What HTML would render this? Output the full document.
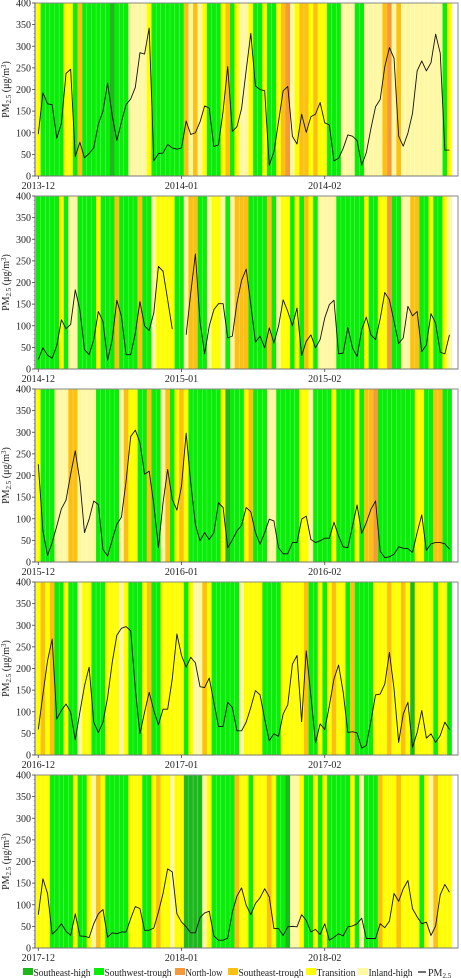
<!DOCTYPE html>
<html><head><meta charset="utf-8">
<style>
html,body{margin:0;padding:0;background:#fff;}
svg{display:block;font-family:"Liberation Serif",serif;}
</style></head>
<body>
<svg id="chart" width="461" height="978" viewBox="0 0 461 978" xmlns="http://www.w3.org/2000/svg"></svg>
<script>
// ---- data ----
const panelStartLabels = ["2013-12","2014-12","2015-12","2016-12","2017-12"];
const panelMidLabels = ["2014-01","2015-01","2016-01","2017-01","2018-01"];
const panelEndLabels = ["2014-02","2015-02","2016-02","2017-02","2018-02"];
const yTicks = [0,50,100,150,200,250,300,350,400];

const types1 = "TGGGGGTTGSGGGGGGDGGGIIIITGGGGGGGSISITGGGTSGTIITGGTGGTSNITSSTSTTGGGIIIGGIIIISNISIIIIIIIIIGT".split("");
const types2 = "GGGGGTGIIGGGGTGGGSGGGGSGGITTTTGGISSGGITTIGISSSGGGGSGITTGTGSTGIIIIGGGGGGTGGTTNGGIISSGGTGGTI".split("");
const types3 = "TGGGIIISSIIIIGGGGGISTTGGSGGISGTSTGGGGGGGTDGGGTSGGGIIGGGGGTTIGGGGTGGGGTGSSNGGGGGGGGTTGGSSGG".split("");
const types4 = "TSTSGGTGGITTGGGTTTITGGGTSGGTTTTTGTIISTGGGGGGITTTTGGGGTTTTTSGGTGTSTTGSGGGGTTTSTTSTDTTTTGTTG".split("");
const types5 = "TTTGGGGGTGGTISTGGGGGTTTGGTSTTITTDDDDITGGGGGSTTGTTTSTGGDIITGGTGTGGGGGTGIGGGSTTTSTTTTGTISTTT".split("");

const pm1 = [97,192,167,165,87,122,237,247,45,78,42,52,65,120,150,215,140,82,125,165,178,205,285,282,342,35,52,53,73,65,62,65,127,96,100,125,162,157,68,72,150,253,103,114,156,245,330,208,200,197,25,56,126,197,207,92,74,143,101,137,143,170,123,118,35,41,64,95,92,82,25,54,110,160,177,253,297,272,92,69,99,145,243,266,243,262,328,284,60,60];
const pm2 = [22,49,32,25,54,114,93,103,183,137,45,33,68,133,110,20,68,159,122,33,33,83,156,100,89,130,237,226,160,92,null,null,79,176,266,110,35,99,137,151,151,72,76,153,205,231,149,62,76,49,95,60,99,160,133,100,141,31,64,79,49,68,118,149,159,35,37,96,49,29,91,120,79,68,116,177,160,110,59,72,145,123,133,40,56,128,106,39,35,79];
const pm3 = [226,72,15,45,83,123,143,203,257,187,68,99,141,133,29,14,51,87,104,187,290,305,276,203,210,133,33,137,214,145,120,176,298,183,87,49,68,52,68,137,126,33,51,72,85,126,116,68,41,68,99,95,33,19,19,45,45,99,106,52,45,49,55,55,92,60,35,33,83,132,66,91,122,141,25,10,12,18,35,32,31,22,68,109,27,42,45,45,42,30];
const pm4 = [59,140,218,268,83,103,118,99,35,99,160,203,76,52,76,133,214,277,293,297,287,153,49,99,145,103,70,106,106,176,280,230,203,226,213,158,156,178,122,66,66,122,110,56,56,76,110,149,139,83,33,49,43,95,116,210,230,77,241,137,28,72,59,114,176,208,145,52,54,51,16,22,79,139,141,164,237,153,29,95,122,18,52,103,39,49,29,45,76,59];
const pm5 = [77,160,126,32,42,56,39,29,79,28,27,24,56,79,89,25,35,33,37,37,68,96,91,41,41,46,83,126,183,176,79,60,49,35,35,70,81,85,28,18,18,23,83,120,139,99,77,103,116,137,118,45,45,29,49,50,49,77,64,37,43,31,56,18,25,33,28,49,51,56,69,22,22,22,56,47,62,126,108,137,156,91,72,56,60,29,51,123,147,129];

const allTypes = [types1,types2,types3,types4,types5];
const allPM = [pm1,pm2,pm3,pm4,pm5];

const typeColors = {D:"#1cb81c",G:"#08ee08",N:"#f59a3a",S:"#fcc012",T:"#ffff00",I:"#fff8a2"};
const legendNames = ["Southeast-high","Southwest-trough","North-low","Southeast-trough","Transition","Inland-high"];
const legendCodes = ["D","G","N","S","T","I"];
const legendX = [23,94,175,228,306,358];
const legendW = [57,67,37,65,39,44];

// ---- layout ----
const NS = "http://www.w3.org/2000/svg";
const svg = document.getElementById("chart");
const plotLeft = 35, plotRight = 458;
const panelTops = [3,196,389,582,775];
const panelH = 173;
const day0X = 38.3, dayW = 4.62;
function xScale(d){ return day0X + dayW*d; }
function yScale(v, top){ return top + panelH - v/400*panelH; }
function mk(tag, attrs, parent){
  const e = document.createElementNS(NS, tag);
  for (const k in attrs) e.setAttribute(k, attrs[k]);
  (parent||svg).appendChild(e);
  return e;
}

allTypes.forEach((types, p) => {
  const top = panelTops[p];
  const g = mk("g", {});
  
  

  types.forEach((c, d) => {
    const r = mk("rect", {x: xScale(d)-dayW/2, y: top, width: dayW+0.05, height: panelH, fill: typeColors[c]}, g);
    
    
    if (d>0 && types[d-1]===c){
      mk("line",{x1:xScale(d)-dayW/2,x2:xScale(d)-dayW/2,y1:top,y2:top+panelH,stroke:"#ffffff","stroke-opacity":0.35,"stroke-width":0.5},g);
    }
  });

  const fr = mk("rect",{x:plotLeft,y:top,width:plotRight-plotLeft,height:panelH,fill:"none",stroke:"#888","stroke-width":1},g);
  
  
  mk("line",{x1:plotLeft,x2:plotRight,y1:top+panelH,y2:top+panelH,stroke:"#777","stroke-width":1},g);
  mk("line",{x1:plotLeft,x2:plotLeft,y1:top,y2:top+panelH,stroke:"#555","stroke-width":1},g);

  yTicks.forEach(v => {
    const y = yScale(v, top);
    mk("line",{x1:plotLeft-3,x2:plotLeft,y1:y,y2:y,stroke:"#444","stroke-width":0.8},g);
    const t = mk("text",{x:plotLeft-4,y:y+3.5,"font-size":10,"text-anchor":"end",fill:"#222"},g);
    t.textContent = v;
    
    
  });
  for (let v=10; v<400; v+=10){
    if (v%50===0) continue;
    const y = yScale(v, top);
    mk("line",{x1:plotLeft-1.5,x2:plotLeft,y1:y,y2:y,stroke:"#777","stroke-width":0.5},g);
  }

  const yt = mk("text",{x:0,y:0,"font-size":10,"text-anchor":"middle",fill:"#222",transform:`translate(9,${top+panelH/2}) rotate(-90)`},g);
  
  
  yt.innerHTML = 'PM<tspan font-size="7" dy="2">2.5</tspan><tspan dy="-2"> (μg/m</tspan><tspan font-size="7" dy="-3">3</tspan><tspan dy="3">)</tspan>';

  [[0,panelStartLabels[p]],[31,panelMidLabels[p]],[62,panelEndLabels[p]]].forEach(([d,lab]) => {
    const x = xScale(d);
    mk("line",{x1:x,x2:x,y1:top+panelH,y2:top+panelH+3,stroke:"#444","stroke-width":0.8},g);
    const t = mk("text",{x:x,y:top+panelH+13,"font-size":10,"text-anchor":"middle",fill:"#222"},g);
    t.textContent = lab;
    
    
  });

  const vals = allPM[p];
  let dStr = "", pen = false;
  vals.forEach((v, d) => {
    if (v === null){ pen = false; return; }
    dStr += (pen ? "L" : "M") + xScale(d).toFixed(2) + "," + yScale(v, top).toFixed(2);
    pen = true;
  });
  const line = mk("path",{d:dStr,fill:"none",stroke:"#111","stroke-width":0.9,"stroke-linejoin":"round"},g);
  
  
});

const lg = mk("g",{});


legendNames.forEach((n,i) => {
  const x = legendX[i];
  const sw = mk("rect",{x:x,y:968,width:10,height:7,fill:typeColors[legendCodes[i]]},lg);
  
  
  const t = mk("text",{x:x+10.5,y:976,"font-size":10,fill:"#222",textLength:legendW[i],lengthAdjust:"spacingAndGlyphs"},lg);
  t.textContent = n;
  
  
});
mk("line",{x1:418,x2:426,y1:972,y2:972,stroke:"#111","stroke-width":1.2},lg);
const pmt = mk("text",{x:428,y:976,"font-size":10,fill:"#222"},lg);


pmt.innerHTML = 'PM<tspan font-size="7" dy="2">2.5</tspan>';
</script>
</body></html>
